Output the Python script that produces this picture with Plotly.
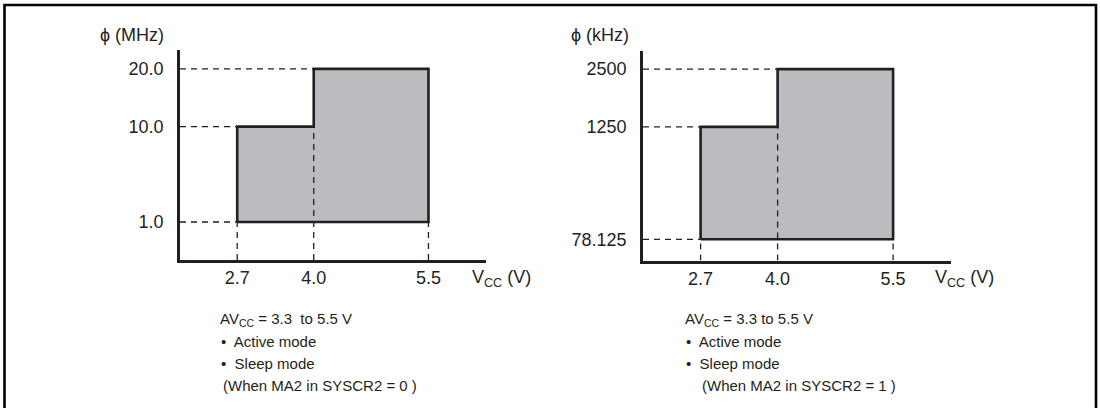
import numpy as np
import plotly.graph_objects as go

# operating range data (schematic, not to scale)
v_cc = [2.7, 4.0, 5.5]
v_cc_labels = ["2.7", "4.0", "5.5"]
f_mhz = [1.0, 10.0, 20.0]
f_mhz_labels = ["1.0", "10.0", "20.0"]
f_khz = [78.125, 1250, 2500]
f_khz_labels = ["78.125", "1250", "2500"]

# schematic scales: where each level sits along its axis (0..1)
X_POS = [0.187, 0.437, 0.812]
Y_POS_L = [0.181, 0.635, 0.910]
Y_POS_R = [0.101, 0.637, 0.912]

INK = "#231f20"
FILL = "#bbbcbf"
FONT = "Arial, Liberation Sans, Helvetica, sans-serif"
W, H = 1100, 408


def sx(v):
    return np.interp(v, v_cc, X_POS)


def sy(v, levels, pos):
    return np.interp(v, levels, pos)


def px(x):
    return x / W


def py(y):
    return 1 - y / H


fig = go.Figure()


def add_panel(fig, levels, pos, xa, ya):
    ys = lambda v: sy(v, levels, pos)
    # step outline of the allowed region
    ox = [v_cc[0], v_cc[0], v_cc[1], v_cc[1], v_cc[2], v_cc[2], v_cc[0]]
    oy = [levels[0], levels[1], levels[1], levels[2], levels[2], levels[0], levels[0]]
    fig.add_trace(go.Scatter(
        x=sx(ox), y=ys(oy), xaxis=xa, yaxis=ya,
        mode="lines", fill="toself", fillcolor=FILL,
        line=dict(color=INK, width=2.6), hoverinfo="skip"))
    # dashed guides: horizontal from the axis, vertical down to the axis
    hx, hy = [], []
    left_x = [v_cc[0], v_cc[0], v_cc[1]]
    for lv, lx in zip(levels, left_x):
        hx += [0, float(sx(lx)), None]
        hy += [float(ys(lv)), float(ys(lv)), None]
    vtop = [levels[0], levels[1], levels[0]]
    for vv, vt in zip(v_cc, vtop):
        hx += [float(sx(vv)), float(sx(vv)), None]
        hy += [0, float(ys(vt)), None]
    fig.add_trace(go.Scatter(
        x=hx, y=hy, xaxis=xa, yaxis=ya, mode="lines",
        line=dict(color=INK, width=1.3, dash="6px,5px"), hoverinfo="skip"))


add_panel(fig, f_mhz, Y_POS_L, "x", "y")
add_panel(fig, f_khz, Y_POS_R, "x2", "y2")

ax_common = dict(range=[0, 1], showline=True, linecolor=INK, linewidth=2.6,
                 showgrid=False, zeroline=False, ticks="", fixedrange=True,
                 tickfont=dict(family=FONT, size=18, color=INK))
x_ax = dict(ax_common, ticklabelstandoff=0)
y_ax = dict(ax_common, ticklabelstandoff=10)

fig.update_layout(
    width=W, height=H,
    margin=dict(l=0, r=0, t=0, b=0),
    paper_bgcolor="white", plot_bgcolor="white",
    showlegend=False,
    font=dict(family=FONT, color=INK),
    xaxis=dict(domain=[px(180), px(486)], anchor="y",
               tickvals=sx(v_cc), ticktext=v_cc_labels, **x_ax),
    yaxis=dict(domain=[py(260), py(50)], anchor="x",
               tickvals=sy(f_mhz, f_mhz, Y_POS_L), ticktext=f_mhz_labels, **y_ax),
    xaxis2=dict(domain=[px(643), px(951)], anchor="y2",
                tickvals=sx(v_cc), ticktext=v_cc_labels, **x_ax),
    yaxis2=dict(domain=[py(260.5), py(50.7)], anchor="x2",
                tickvals=sy(f_khz, f_khz, Y_POS_R), ticktext=f_khz_labels, **y_ax),
)

# outer frame
fig.add_shape(type="rect", xref="paper", yref="paper",
              x0=px(4.5), x1=px(1096), y0=py(H + 10), y1=py(5),
              line=dict(color="black", width=2.6))


def note(text, x, y, size=18, anchor="left"):
    fig.add_annotation(text=text, xref="paper", yref="paper",
                       x=px(x), y=py(y), xanchor=anchor, yanchor="middle",
                       showarrow=False, font=dict(family=FONT, size=size, color=INK))


note("\u03d5 (MHz)", 132, 35, anchor="center")
note("\u03d5 (kHz)", 600, 35, anchor="center")
note("V<sub>CC</sub> (V)", 470, 278)
note("V<sub>CC</sub> (V)", 933, 278)

left_lines = ["AV<sub>CC</sub> = 3.3&nbsp; to 5.5 V", "\u2022  Active mode",
              "\u2022  Sleep mode", "(When MA2 in SYSCR2 = 0 )"]
right_lines = ["AV<sub>CC</sub> = 3.3 to 5.5 V", "\u2022  Active mode",
               "\u2022  Sleep mode", "(When MA2 in SYSCR2 = 1 )"]
line_y = [319, 341, 363, 385]
left_x = [218, 219, 219, 221]
right_x = [683, 684, 684, 700]
for t, x, y in zip(left_lines, left_x, line_y):
    note(t, x, y, size=15)
for t, x, y in zip(right_lines, right_x, line_y):
    note(t, x, y, size=15)

fig.write_html("out.html", config={"displayModeBar": False},
               post_script="document.body.style.margin='0';")
